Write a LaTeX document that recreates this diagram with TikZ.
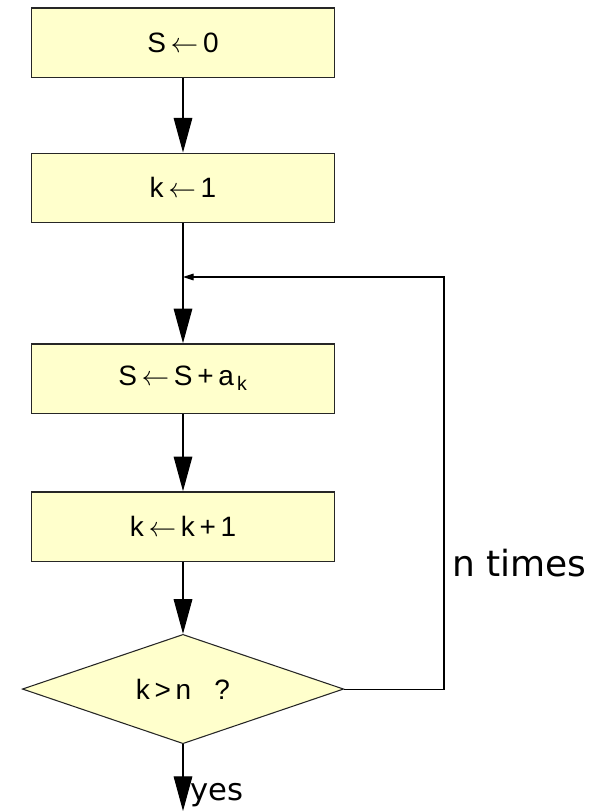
\documentclass[tikz,border=0pt]{standalone}
\usepackage{fontspec}
\setmainfont{Liberation Sans}
\newfontfamily\notefont{DejaVu Sans}
\usetikzlibrary{shapes.geometric,positioning,arrows.meta}
\definecolor{boxfill}{HTML}{FFFFCC}
\newcommand{\getsto}{\,$\leftarrow$\,}
\tikzset{
    stepbox/.style={draw=black!85, fill=boxfill, line width=1pt, minimum width=227pt, minimum height=52pt, font=\fontsize{21}{24}\selectfont},
    testbox/.style={diamond, aspect=2.95, draw=black!85, fill=boxfill, line width=0.8pt, minimum width=241pt, minimum height=82pt, inner sep=0pt, font=\fontsize{21}{24}\selectfont},
    flow/.style={line width=0.8pt, -{Triangle[length=26pt,width=14pt]}},
    back/.style={line width=0.8pt, -{Triangle[length=8pt,width=5pt]}},
    note/.style={font=\notefont\fontsize{27}{31}\selectfont, inner sep=0pt}
}
\begin{document}
\begin{tikzpicture}[x=0.75pt, y=-0.75pt]
        \useasboundingbox (0,0) rectangle (611,811);
        \node[stepbox] (s0) at (183,42.5) {S\getsto 0};
        \node[stepbox, below=56pt of s0] (k1) {k\getsto 1};
        \node[stepbox, below=90pt of k1] (add) {S\getsto S\,+\,a\textsubscript{\,k}};
        \node[stepbox, below=58pt of add] (inc) {k\getsto k\,+\,1};
        \node[testbox, below=54pt of inc] (test) {k\,>\,n\ \ \ ?};
        \coordinate (turn) at (444,277);
        \coordinate (exit) at (183,811);
        \draw[flow] (s0) -- (k1);
        \draw[flow] (k1) -- (add);
        \draw[flow] (add) -- (inc);
        \draw[flow] (inc) -- (test);
        \draw[flow] (test) -- (exit);
        \draw[back] (test.east) -| (turn) -- (turn -| k1.south);
        \node[note, anchor=base west] (times) at (452,576) {n times};
        \node[note, anchor=base west, font=\notefont\fontsize{23}{26}\selectfont] (yes) at (190,800) {yes};
    \end{tikzpicture}
\end{document}
